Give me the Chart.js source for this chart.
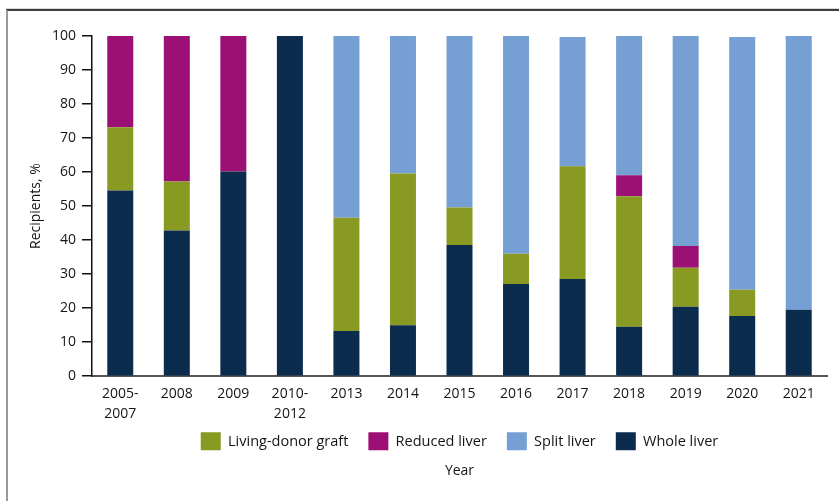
<!DOCTYPE html>
<html>
<head>
<meta charset="utf-8">
<script src="https://cdn.jsdelivr.net/npm/chart.js@4/dist/chart.umd.min.js"></script>
<style>
  html, body { margin: 0; padding: 0; background: #fff; }
  #wrap { position: relative; width: 839px; height: 501px; overflow: hidden; }
  #frame { position: absolute; left: 6px; top: 9px; width: 860px; height: 520px;
           border-top: 2px solid #3d3d3d; border-left: 2px solid #9a9a9a;
           box-shadow: 0 -1px 0 #d8d8d8; }
  canvas { position: absolute; left: 0; top: 0; }
</style>
</head>
<body>
<div id="wrap">
  <div id="frame"></div>
  <canvas id="c" width="839" height="501"></canvas>
</div>
<script>
const categories = [['2005-', '2007'], '2008', '2009', ['2010-', '2012'], '2013', '2014', '2015', '2016', '2017', '2018', '2019', '2020', '2021'];
const wholeLiver   = [54.6, 42.8, 60.2, 100, 13.3, 15.0, 38.6, 27.1, 28.6, 14.5, 20.4, 17.7, 19.5];
const livingDonor  = [18.6, 14.4, 0, 0, 33.3, 44.6, 11.0, 8.9, 33.1, 38.4, 11.5, 7.7, 0];
const reducedLiver = [26.8, 42.8, 39.8, 0, 0, 0, 0, 0, 0, 6.2, 6.4, 0, 0];
const splitLiver   = [0, 0, 0, 0, 53.4, 40.4, 50.4, 64.0, 38.0, 40.9, 61.7, 74.3, 80.5];
const yTicks = [0, 10, 20, 30, 40, 50, 60, 70, 80, 90, 100];

const FONT = "'Open Sans', 'Noto Sans', sans-serif";
const TXT = '#151515';
const legendRank = [3, 0, 1, 2];

const shiftLegend = {
  id: 'shiftLegend',
  afterLayout(chart) {
    const l = chart.legend;
    if (l) { l.top -= 12; l.bottom -= 12; }
  }
};

new Chart(document.getElementById('c'), {
  type: 'bar',
  data: {
    labels: categories,
    datasets: [
      { label: 'Whole liver', data: wholeLiver, backgroundColor: '#0b2c4d' },
      { label: 'Living-donor graft', data: livingDonor, backgroundColor: '#889a21' },
      { label: 'Reduced liver', data: reducedLiver, backgroundColor: '#9c1075' },
      { label: 'Split liver', data: splitLiver, backgroundColor: '#769fd3' }
    ]
  },
  plugins: [shiftLegend],
  options: {
    responsive: false,
    animation: false,
    layout: { padding: { left: 20, right: 12, top: 36, bottom: 12 } },
    datasets: { bar: { categoryPercentage: 1, barPercentage: 0.46, borderWidth: 0 } },
    scales: {
      x: {
        stacked: true,
        grid: { display: false, drawTicks: false },
        border: { display: true, color: '#555', width: 2 },
        ticks: { color: TXT, font: { family: FONT, size: 14, lineHeight: 1.4 }, padding: 8, maxRotation: 0, autoSkip: false },
        afterFit: (s) => { s.height = 48; }
      },
      y: {
        stacked: true,
        min: 0, max: 100,
        afterBuildTicks: (s) => { s.ticks = yTicks.map(v => ({ value: v })); },
        grid: { drawOnChartArea: false, drawTicks: true, tickLength: 10, color: '#111', lineWidth: 1.5 },
        border: { display: true, color: '#111', width: 1.5 },
        ticks: { color: TXT, font: { family: FONT, size: 14 }, padding: 6 },
        title: { display: true, text: 'Recipients, %', color: TXT, font: { family: FONT, size: 14 }, padding: { top: 8, bottom: 0 } },
        afterFit: (s) => { s.width = 72; }
      }
    },
    plugins: {
      tooltip: { enabled: false },
      legend: {
        position: 'bottom',
        fullSize: false,
        maxHeight: 38,
        labels: {
          boxWidth: 20, boxHeight: 20, padding: 20, color: TXT,
          font: { family: FONT, size: 14.5 },
          sort: (a, b) => legendRank[a.datasetIndex] - legendRank[b.datasetIndex]
        }
      },
      title: {
        display: true, text: 'Year', position: 'bottom', fullSize: false,
        color: TXT, font: { family: FONT, size: 14, weight: 'normal' },
        padding: { top: 0, bottom: 10 }
      }
    }
  }
});
</script>
</body>
</html>
